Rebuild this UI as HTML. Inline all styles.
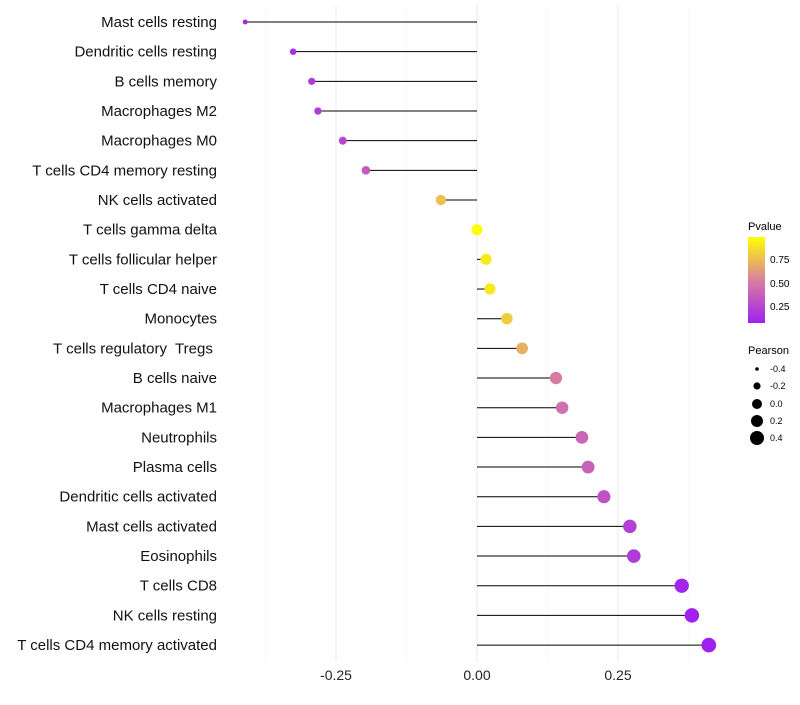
<!DOCTYPE html>
<html><head><meta charset="utf-8"><style>
body{margin:0;background:#fff;font-family:"Liberation Sans",sans-serif}
text{white-space:pre}
</style></head><body>
<svg id="c" width="800" height="700" xmlns="http://www.w3.org/2000/svg">
<defs><linearGradient id="pg" x1="0" y1="1" x2="0" y2="0">
<stop offset="0" stop-color="#a020f0"/><stop offset="0.5" stop-color="#d9809f"/><stop offset="1" stop-color="#ffff00"/></linearGradient></defs>
<g id="grid"></g><g id="marks"></g><g id="labels"></g>
<g font-size="10">
<text x="748" y="230" font-size="11">Pvalue</text>
<rect x="748" y="237" width="17" height="86" fill="url(#pg)"/>
<text x="770" y="263">0.75</text><text x="770" y="287">0.50</text><text x="770" y="310">0.25</text>
</g>
<g font-size="9">
<text x="748" y="354" font-size="11">Pearson</text>
<circle cx="757" cy="369" r="1.8"/><text x="770" y="372">-0.4</text>
<circle cx="757" cy="386" r="3.6"/><text x="770" y="389">-0.2</text>
<circle cx="757" cy="404" r="5"/><text x="770" y="407">0.0</text>
<circle cx="757" cy="421" r="6"/><text x="770" y="424">0.2</text>
<circle cx="757" cy="438" r="7"/><text x="770" y="441">0.4</text>
</g>
</svg>
<script>
const categories=["Mast cells resting","Dendritic cells resting","B cells memory","Macrophages M2","Macrophages M0","T cells CD4 memory resting","NK cells activated","T cells gamma delta","T cells follicular helper","T cells CD4 naive","Monocytes","T cells regulatory  Tregs ","B cells naive","Macrophages M1","Neutrophils","Plasma cells","Dendritic cells activated","Mast cells activated","Eosinophils","T cells CD8","NK cells resting","T cells CD4 memory activated"];
const pearson=[-0.411,-0.326,-0.293,-0.282,-0.238,-0.197,-0.064,0.0,0.016,0.023,0.053,0.080,0.140,0.151,0.186,0.197,0.225,0.271,0.278,0.363,0.381,0.411];
const pvalue=[0.1,0.15,0.2,0.2,0.25,0.35,0.75,0.98,0.9,0.9,0.8,0.7,0.5,0.45,0.4,0.38,0.3,0.22,0.2,0.1,0.08,0.06];
const xTicks=[-0.25,0,0.25];
const xTickLabels=["-0.25","0.00","0.25"];
const NS="http://www.w3.org/2000/svg";
const x=v=>477+v*564, y=i=>22+i*29.67;
function mk(t,a,p){const e=document.createElementNS(NS,t);for(const k in a)e.setAttribute(k,a[k]);document.getElementById(p).appendChild(e);return e;}
function col(p){const t=Math.max(0,Math.min(1,(p-0.07)/0.91));const A=[160,32,240],B=[217,128,159],C=[255,255,0];let a,b,u;if(t<0.5){a=A;b=B;u=t*2}else{a=B;b=C;u=(t-0.5)*2}return `rgb(${a.map((v,i)=>Math.round(v+(b[i]-v)*u)).join(',')})`;}
[-0.375,-0.125,0.125,0.375].forEach(v=>{const l=mk('line',{x1:x(v),x2:x(v),y1:5,y2:662,stroke:'#f3f3f3','stroke-width':0.6},'grid');});
xTicks.forEach((v,i)=>{const l=mk('line',{x1:x(v),x2:x(v),y1:5,y2:662,stroke:'#ebebeb','stroke-width':1.1},'grid');
const t=mk('text',{x:x(v),y:680,'text-anchor':'middle','font-size':14,fill:'#222'},'labels');t.textContent=xTickLabels[i];});
categories.forEach((c,i)=>{const v=pearson[i];
const l=mk('line',{x1:x(0),x2:x(v),y1:y(i),y2:y(i),stroke:'#000','stroke-width':1},'marks');
const r=Math.sqrt(Math.max(2.5,30+58*v));
const p=mk('circle',{cx:x(v),cy:y(i),r:r,fill:col(pvalue[i])},'marks');
const t=mk('text',{x:217,y:y(i)+5,'text-anchor':'end','font-size':15,fill:'#111','xml:space':'preserve'},'labels');t.textContent=c;});
</script>
</body></html>
